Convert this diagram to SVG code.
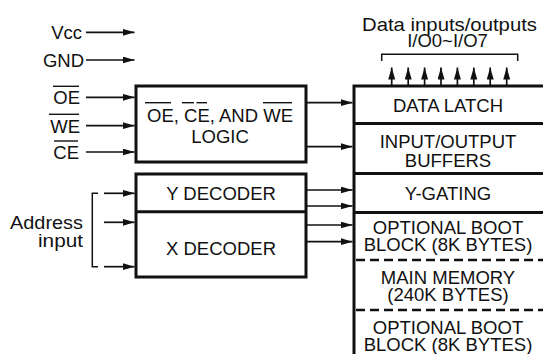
<svg xmlns="http://www.w3.org/2000/svg" width="543" height="354" viewBox="0 0 543 354">
<style>
text{font-family:"Liberation Sans",Arial,sans-serif;font-size:18.5px;fill:#111}
.m{text-anchor:middle}
.e{text-anchor:end}
.box{fill:#fff;stroke:#111;stroke-width:3}
.div{stroke:#111;stroke-width:3;fill:none}
.dash{stroke:#111;stroke-width:2.5;stroke-dasharray:9 5;fill:none}
.a{stroke:#111;stroke-width:1.7;fill:none;marker-end:url(#ah)}
.ln{stroke:#111;stroke-width:1.5;fill:none}
.ov{stroke:#111;stroke-width:1.4}
</style>
<defs>
<marker id="ah" markerUnits="userSpaceOnUse" markerWidth="13" markerHeight="8" refX="12" refY="3.5" orient="auto">
<path d="M0,0 L12,3.5 L0,7 z" fill="#111"/>
</marker>
</defs>

<g id="memory-column">
<rect class="box" x="354" y="86" width="220" height="300"/>
<line class="div" x1="354" y1="123.5" x2="545" y2="123.5"/>
<line class="div" x1="354" y1="173.5" x2="545" y2="173.5"/>
<line class="div" x1="354" y1="212.5" x2="545" y2="212.5"/>
<line class="dash" x1="356" y1="260" x2="545" y2="260"/>
<line class="dash" x1="356" y1="310" x2="545" y2="310"/>
<text class="m" x="448" y="112">DATA LATCH</text>
<text class="m" x="448" y="148">INPUT/OUTPUT</text>
<text class="m" x="448" y="166.5">BUFFERS</text>
<text class="m" x="448" y="200">Y-GATING</text>
<text class="m" x="448" y="233.5">OPTIONAL BOOT</text>
<text class="m" x="448" y="251">BLOCK (8K BYTES)</text>
<text class="m" x="448" y="283.5">MAIN MEMORY</text>
<text class="m" x="448" y="300.5">(240K BYTES)</text>
<text class="m" x="448" y="333.5">OPTIONAL BOOT</text>
<text class="m" x="448" y="350.5">BLOCK (8K BYTES)</text>
</g>

<g id="logic">
<rect class="box" x="136" y="86" width="170" height="76"/>
<text class="m" x="220" y="121.5">OE, CE, AND WE</text>
<line class="ov" x1="145" y1="102.7" x2="171" y2="102.7"/>
<line class="ov" x1="182" y1="102.7" x2="194" y2="102.7"/>
<line class="ov" x1="196.5" y1="102.7" x2="207" y2="102.7"/>
<line class="ov" x1="263" y1="102.7" x2="292" y2="102.7"/>
<text class="m" x="220" y="142.5">LOGIC</text>
</g>

<g id="decoders">
<rect class="box" x="136" y="174" width="170" height="103"/>
<line class="div" x1="136" y1="211.8" x2="306" y2="211.8"/>
<text class="m" x="221" y="200">Y DECODER</text>
<text class="m" x="221" y="255">X DECODER</text>
</g>

<g id="labels">
<text class="e" x="82" y="39">Vcc</text>
<text class="e" x="84" y="66.5">GND</text>
<text class="e" x="80" y="104">OE</text>
<line class="ov" x1="53" y1="86.3" x2="79" y2="86.3"/>
<text class="e" x="80" y="132.5">WE</text>
<line class="ov" x1="49" y1="114.3" x2="79" y2="114.3"/>
<text class="e" x="79" y="159">CE</text>
<line class="ov" x1="54" y1="141" x2="78" y2="141"/>
<text class="e" x="83" y="228.7" textLength="73" lengthAdjust="spacingAndGlyphs">Address</text>
<text class="e" x="83" y="246.5" textLength="45" lengthAdjust="spacingAndGlyphs">input</text>
<text class="m" x="449.5" y="30.5" textLength="175" lengthAdjust="spacingAndGlyphs">Data inputs/outputs</text>
<text class="m" x="447.5" y="46.5">I/O0~I/O7</text>
</g>

<g id="connectors">
<line class="a" x1="86" y1="32.3" x2="134.5" y2="32.3"/>
<line class="a" x1="86" y1="60" x2="134.5" y2="60"/>
<line class="a" x1="86" y1="97.3" x2="134.5" y2="97.3"/>
<line class="a" x1="86" y1="125.7" x2="134.5" y2="125.7"/>
<line class="a" x1="86" y1="152" x2="134.5" y2="152"/>
<line class="a" x1="306" y1="102.7" x2="352.5" y2="102.7"/>
<line class="a" x1="306" y1="146.7" x2="352.5" y2="146.7"/>
<line class="a" x1="306" y1="190" x2="352.5" y2="190"/>
<line class="a" x1="306" y1="206" x2="352.5" y2="206"/>
<line class="a" x1="306" y1="225" x2="352.5" y2="225"/>
<line class="a" x1="306" y1="241.7" x2="352.5" y2="241.7"/>
<path class="ln" d="M98,193.3 H92.3 V266.7 H98"/>
<line class="a" x1="104" y1="193.3" x2="134.5" y2="193.3"/>
<line class="a" x1="104" y1="222.3" x2="134.5" y2="222.3"/>
<line class="a" x1="104" y1="266.7" x2="134.5" y2="266.7"/>
<path class="ln" d="M381.7,61 V54.3 H517.7 V61"/>
<line class="a" x1="391.7" y1="86" x2="391.7" y2="67.5"/>
<line class="a" x1="408.2" y1="86" x2="408.2" y2="67.5"/>
<line class="a" x1="424.6" y1="86" x2="424.6" y2="67.5"/>
<line class="a" x1="441" y1="86" x2="441" y2="67.5"/>
<line class="a" x1="457.4" y1="86" x2="457.4" y2="67.5"/>
<line class="a" x1="473.8" y1="86" x2="473.8" y2="67.5"/>
<line class="a" x1="490.2" y1="86" x2="490.2" y2="67.5"/>
<line class="a" x1="506.7" y1="86" x2="506.7" y2="67.5"/>
</g>
</svg>
